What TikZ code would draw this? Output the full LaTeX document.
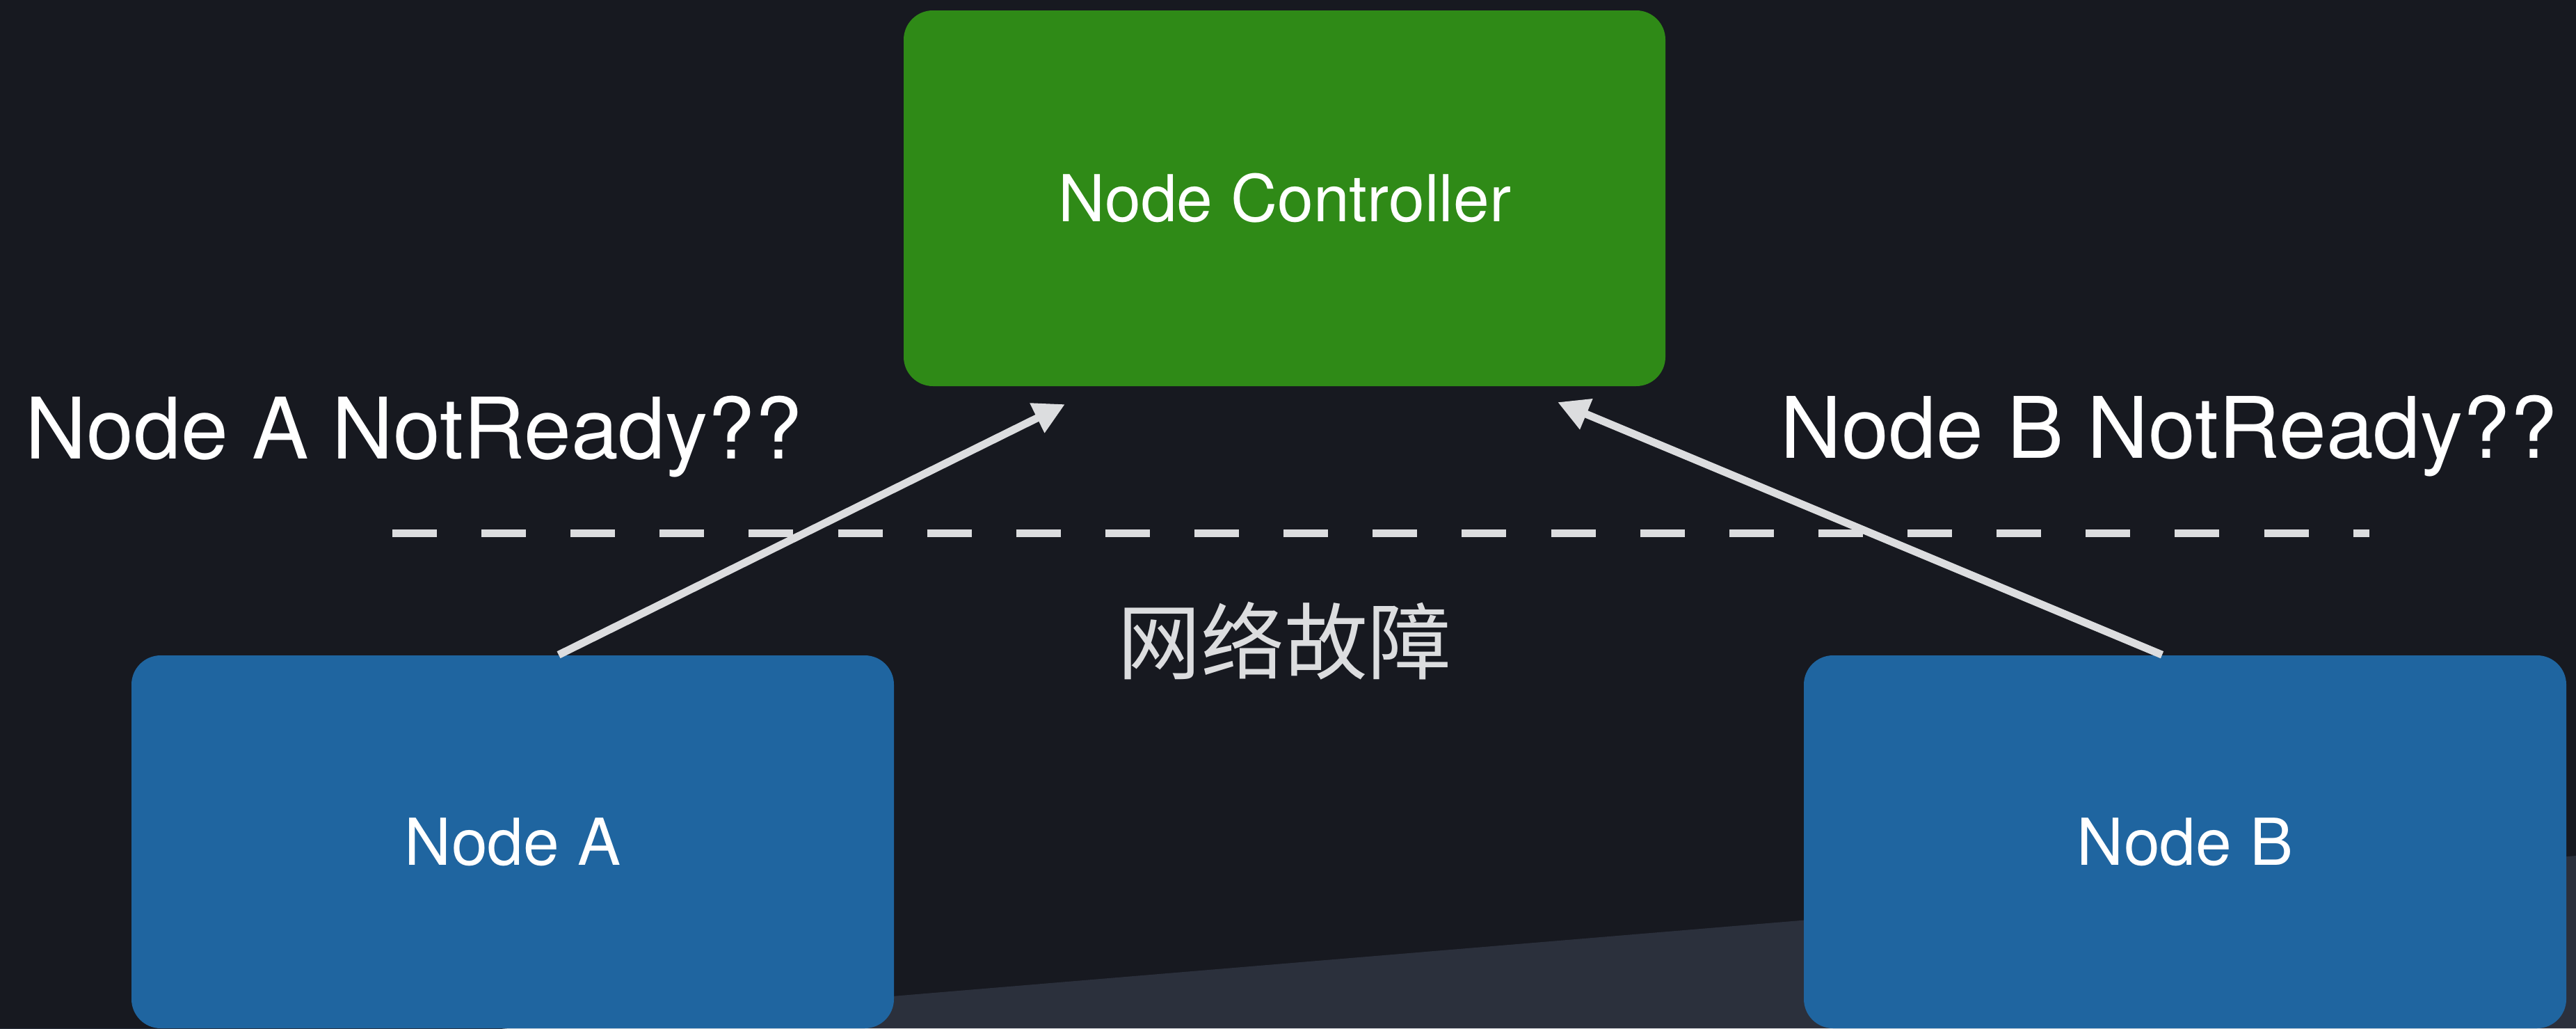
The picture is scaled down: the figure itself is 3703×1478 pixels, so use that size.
\documentclass[tikz,border=0pt]{standalone}
\usepackage{fontspec}
\setmainfont{TeX Gyre Heros}
\newfontfamily\cjk{Noto Sans CJK SC}
\usetikzlibrary{arrows.meta}

\definecolor{bgdark}{HTML}{171920}
\definecolor{floorgray}{HTML}{2B303C}
\definecolor{ctrlgreen}{HTML}{2F8A17}
\definecolor{nodeblue}{HTML}{1F65A0}
\definecolor{linegray}{HTML}{DCDDDF}

\tikzset{
  box/.style={rectangle, rounded corners=10.5pt, inner sep=0pt, draw=none,
    text=white, font=\fontsize{23.25}{28}\selectfont},
  ctrlbox/.style={box, fill=ctrlgreen, minimum width=273.75pt, minimum height=135pt},
  workerbox/.style={box, fill=nodeblue, minimum width=274pt, minimum height=134pt},
  biglabel/.style={inner sep=0pt, anchor=base west, text=white,
    font=\fontsize{30.5}{36}\selectfont},
  conn/.style={draw=linegray, line width=2.75pt,
    -{Triangle[length=11.2pt, width=11.2pt]}},
  partition/.style={draw=linegray, line width=2.75pt,
    dash pattern=on 16pt off 16.03pt}
}

\begin{document}
\begin{tikzpicture}[x=0.25pt, y=-0.25pt]
  % canvas
  \useasboundingbox (0,0) rectangle (3703,1478);
  \fill[bgdark] (0,0) rectangle (3703,1478);
  % floor band along the bottom
  \fill[floorgray] (0,1539) -- (3703,1230) -- (3703,1478) -- (0,1478) -- cycle;

  % network partition line
  \coordinate (cutL) at (564,766);
  \coordinate (cutR) at (3406,766);
  \draw[partition] (cutL) -- (cutR);
  \node[inner sep=0pt, text=linegray, font=\cjk\fontsize{30}{36}\selectfont]
    (fault) at (1846,921) {网络故障};

  % boxes
  \node[ctrlbox] (ctrl) at (1846.5,285) {Node Controller};
  \node[workerbox] (na) at (737,1210) {Node A};
  \node[workerbox] (nb) at (3141,1210) {Node B};

  % heartbeat arrows
  \coordinate (tipA) at (1531,581);
  \coordinate (tipB) at (2239,578);
  \draw[conn] ([xshift=16.5pt]na.north) -- (tipA);
  \draw[conn] ([xshift=-8.25pt]nb.north) -- (tipB);

  % status questions
  \node[biglabel] (qa) at (36,659) {Node A NotReady??};
  \node[biglabel] (qb) at (2559,658) {Node B NotReady??};
\end{tikzpicture}
\end{document}
